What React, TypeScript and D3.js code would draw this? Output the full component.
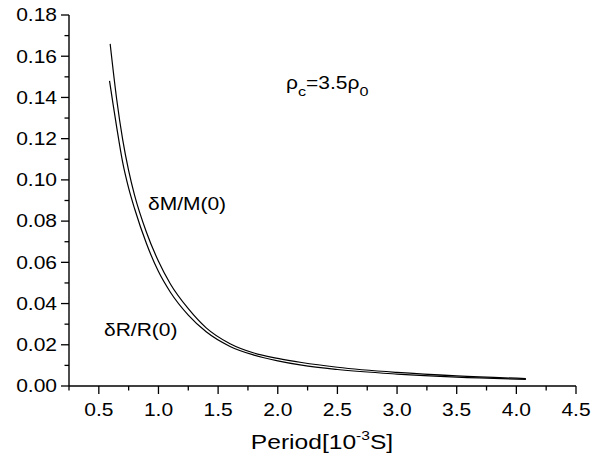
import { useEffect, useRef } from 'react'
import * as d3 from 'd3'

const W = 612
const H = 459

// upper curve
const periodM = [0.595, 0.65, 0.7, 0.75, 0.8, 0.9, 1.0, 1.1, 1.25, 1.4, 1.6, 1.8, 2.0, 2.2, 2.5, 3.0, 3.5, 4.08]
const deltaM = [0.166, 0.139, 0.1195, 0.1045, 0.0925, 0.0745, 0.0605, 0.0495, 0.0375, 0.0282, 0.0205, 0.016, 0.0134, 0.0114, 0.0091, 0.0066, 0.0049, 0.0036]

// lower curve
const periodR = [0.59, 0.62, 0.65, 0.7, 0.75, 0.8, 0.9, 1.0, 1.1, 1.25, 1.4, 1.6, 1.8, 2.0, 2.2, 2.5, 3.0, 3.5, 4.08]
const deltaR = [0.148, 0.1365, 0.1255, 0.1085, 0.096, 0.086, 0.069, 0.0555, 0.0455, 0.0344, 0.0263, 0.0192, 0.015, 0.0122, 0.0101, 0.008, 0.0058, 0.0043, 0.0032]

const xMajor = [0.5, 1.0, 1.5, 2.0, 2.5, 3.0, 3.5, 4.0, 4.5]
const xMinor = [0.25, 0.75, 1.25, 1.75, 2.25, 2.75, 3.25, 3.75, 4.25]
const yMajor = [0, 0.02, 0.04, 0.06, 0.08, 0.1, 0.12, 0.14, 0.16, 0.18]
const yMinor = [0.01, 0.03, 0.05, 0.07, 0.09, 0.11, 0.13, 0.15, 0.17]

const FONT = '"Liberation Sans", Arial, Helvetica, sans-serif'
const STRETCH = 1.2 // glyphs in the source are a bit wide

function App() {
  const svgRef = useRef<SVGSVGElement | null>(null)

  useEffect(() => {
    if (!svgRef.current) return
    const svg = d3.select(svgRef.current)
    svg.selectAll('*').remove()

    const x = d3.scaleLinear().domain([0.25, 4.5]).range([69, 576])
    const y = d3.scaleLinear().domain([0, 0.18]).range([386, 15])

    const g = svg.append('g')

    // wide text, placed at (tx, ty) with anchor
    const label = (tx: number, ty: number, anchor: string, size: number) =>
      g.append('text')
        .attr('transform', `translate(${tx},${ty}) scale(${STRETCH},1)`)
        .attr('text-anchor', anchor)
        .attr('font-family', FONT)
        .attr('font-size', size)
        .attr('fill', '#000')

    // axes lines
    g.append('line')
      .attr('x1', x(0.25)).attr('x2', x(4.5))
      .attr('y1', y(0)).attr('y2', y(0))
      .attr('stroke', '#000').attr('stroke-width', 1.4)
    g.append('line')
      .attr('x1', x(0.25)).attr('x2', x(0.25))
      .attr('y1', y(0)).attr('y2', y(0.18))
      .attr('stroke', '#000').attr('stroke-width', 1.4)

    // x ticks
    xMajor.forEach(v => {
      g.append('line')
        .attr('x1', x(v)).attr('x2', x(v))
        .attr('y1', y(0)).attr('y2', y(0) + 8)
        .attr('stroke', '#000').attr('stroke-width', 1.3)
      label(x(v), 416, 'middle', 17.5).text(v.toFixed(1))
    })
    xMinor.forEach(v => {
      g.append('line')
        .attr('x1', x(v)).attr('x2', x(v))
        .attr('y1', y(0)).attr('y2', y(0) + 4.5)
        .attr('stroke', '#000').attr('stroke-width', 1.3)
    })

    // y ticks
    yMajor.forEach(v => {
      g.append('line')
        .attr('x1', x(0.25)).attr('x2', x(0.25) - 8)
        .attr('y1', y(v)).attr('y2', y(v))
        .attr('stroke', '#000').attr('stroke-width', 1.3)
      label(57, y(v) + 6.3, 'end', 17.5).text(v.toFixed(2))
    })
    yMinor.forEach(v => {
      g.append('line')
        .attr('x1', x(0.25)).attr('x2', x(0.25) - 4.5)
        .attr('y1', y(v)).attr('y2', y(v))
        .attr('stroke', '#000').attr('stroke-width', 1.3)
    })

    // curves
    const line = d3.line<[number, number]>()
      .x(d => x(d[0]))
      .y(d => y(d[1]))
      .curve(d3.curveMonotoneX)

    const upper = periodM.map((p, i) => [p, deltaM[i]] as [number, number])
    const lower = periodR.map((p, i) => [p, deltaR[i]] as [number, number])

    ;[upper, lower].forEach(pts => {
      g.append('path')
        .datum(pts)
        .attr('d', line)
        .attr('fill', 'none')
        .attr('stroke', '#000')
        .attr('stroke-width', 1.2)
    })

    // axis title
    const title = label(322, 449, 'middle', 20.5)
    title.append('tspan').text('Period[10')
    title.append('tspan').attr('font-size', 13).attr('dy', -9).text('-3')
    title.append('tspan').attr('dy', 9).text('S]')

    // annotations
    label(148, 210, 'start', 17.5).text('δM/M(0)')
    label(104, 336, 'start', 17.5).text('δR/R(0)')

    const rho = label(286, 89, 'start', 17.5)
    rho.append('tspan').text('ρ')
    rho.append('tspan').attr('font-size', 13.5).attr('dy', 7).text('c')
    rho.append('tspan').attr('dy', -7).text('=3.5ρ')
    rho.append('tspan').attr('font-size', 13.5).attr('dy', 7).text('0')
  }, [])

  return (
    <svg
      ref={svgRef}
      width={W}
      height={H}
      style={{ position: 'absolute', left: 0, top: 0, background: '#fff' }}
    />
  )
}

export default App
